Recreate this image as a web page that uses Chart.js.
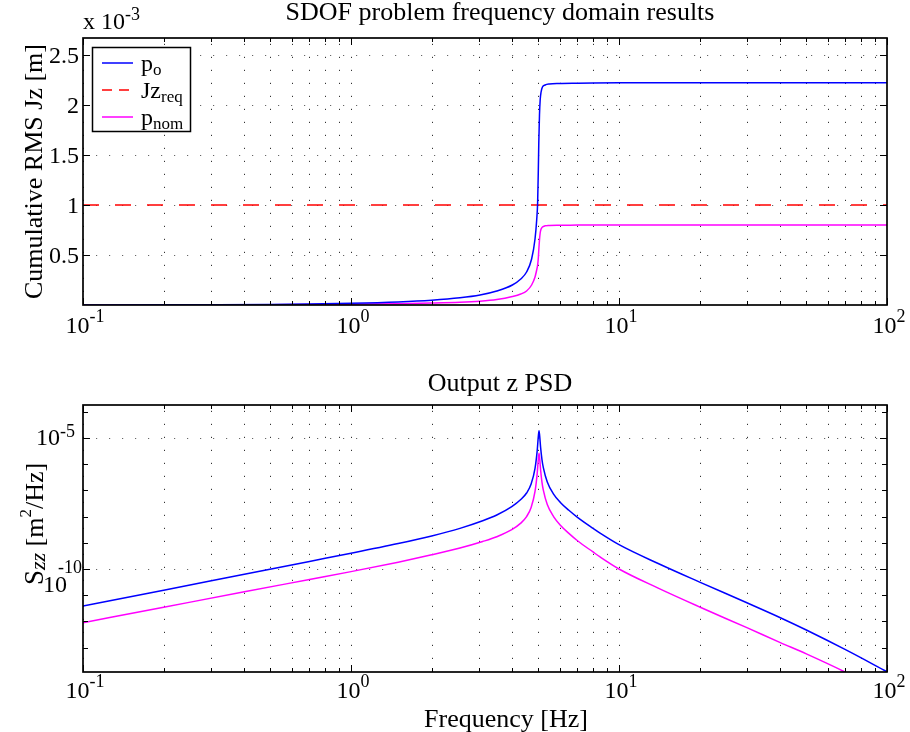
<!DOCTYPE html>
<html><head><meta charset="utf-8">
<script src="https://cdn.jsdelivr.net/npm/chart.js@4.4.1/dist/chart.umd.min.js"></script>
<style>
html,body{margin:0;padding:0;background:#fff;}
#wrap{position:relative;width:910px;height:732px;overflow:hidden;}
#c1{position:absolute;left:0;top:0;width:910px;height:340px;}
#c2{position:absolute;left:0;top:340px;width:910px;height:392px;}
</style></head><body>
<div id="wrap"><canvas id="c1" width="910" height="340"></canvas><canvas id="c2" width="910" height="392"></canvas></div>
<script>
// ---------- Top subplot: cumulative RMS ----------
const freqTop = [0.1, 0.2, 0.3, 0.5, 0.7, 1, 1.5, 2, 2.55, 3.03, 3.5, 4.0, 4.3, 4.52, 4.72, 4.86, 4.93, 4.97, 5.0, 5.02, 5.05, 5.08, 5.12, 5.18, 5.3, 5.5, 6.0, 7, 8, 10, 20, 50, 100];
const rmsPo = [5e-7, 1.5e-6, 3e-6, 6e-6, 1.0e-5, 1.7e-5, 3.1e-5, 4.8e-5, 7.2e-5, 1.0e-4, 1.4e-4, 2.0e-4, 2.6e-4, 3.3e-4, 4.6e-4, 6.6e-4, 8.5e-4, 1.02e-3, 1.35e-3, 1.62e-3, 1.90e-3, 2.05e-3, 2.13e-3, 2.18e-3, 2.20e-3, 2.21e-3, 2.215e-3, 2.218e-3, 2.22e-3, 2.222e-3, 2.223e-3, 2.223e-3, 2.223e-3];
const rmsPnom = [2e-7, 7e-7, 1.3e-6, 2.7e-6, 4.5e-6, 8e-6, 1.3e-5, 1.9e-5, 2.7e-5, 3.8e-5, 5.5e-5, 8.5e-5, 1.1e-4, 1.4e-4, 2.0e-4, 2.8e-4, 3.5e-4, 4.0e-4, 4.7e-4, 5.5e-4, 6.5e-4, 7.2e-4, 7.6e-4, 7.8e-4, 7.92e-4, 7.96e-4, 7.98e-4, 7.99e-4, 8.0e-4, 8.0e-4, 8.0e-4, 8.0e-4, 8.0e-4];
const jzReqFreq = [0.1, 100];
const jzReqValue = [1e-3, 1e-3];

// ---------- Bottom subplot: output PSD ----------
const freqPsd = [0.1, 0.2, 0.4, 0.7, 1, 1.5, 2, 2.55, 3.1, 3.5, 3.98, 4.3, 4.52, 4.7, 4.86, 4.95, 5.0, 5.03, 5.06, 5.1, 5.16, 5.22, 5.4, 5.7, 6.03, 6.5, 7.0, 8.0, 8.5, 10, 14, 20, 30, 40, 50, 70, 100];
const psdPo = [3.89e-12, 1.55e-11, 6.31e-11, 1.95e-10, 3.98e-10, 9.33e-10, 1.82e-9, 3.55e-9, 6.92e-9, 1.15e-8, 2.40e-8, 4.47e-8, 7.94e-8, 1.74e-7, 6.92e-7, 3.16e-6, 1.15e-5, 1.91e-5, 1.15e-5, 4.27e-6, 1.48e-6, 7.41e-7, 2.09e-7, 7.24e-8, 3.55e-8, 1.74e-8, 9.33e-9, 3.55e-9, 2.34e-9, 8.51e-10, 1.62e-10, 3.16e-11, 5.13e-12, 1.38e-12, 4.68e-13, 8.32e-14, 1.2e-14];
const psdPnom = [8.91e-13, 3.47e-12, 1.35e-11, 3.98e-11, 7.94e-11, 1.82e-10, 3.47e-10, 6.31e-10, 1.12e-9, 1.70e-9, 3.16e-9, 5.62e-9, 1.0e-8, 2.24e-8, 9.12e-8, 4.27e-7, 1.58e-6, 2.63e-6, 1.58e-6, 5.89e-7, 2.04e-7, 1.02e-7, 2.88e-8, 1.0e-8, 4.79e-9, 2.29e-9, 1.20e-9, 4.47e-10, 2.88e-10, 1.0e-10, 1.86e-11, 3.55e-12, 5.75e-13, 1.55e-13, 5.75e-14, 1.15e-14, 1.78e-15];

// ---------- Ticks ----------
const xMajorTicks = [0.1, 1, 10, 100];
const xTickExponents = ['-1', '0', '1', '2'];
const xMinorTicks = [0.2,0.3,0.4,0.5,0.6,0.7,0.8,0.9, 2,3,4,5,6,7,8,9, 20,30,40,50,60,70,80,90];
const topYTicks = [0.5e-3, 1e-3, 1.5e-3, 2e-3, 2.5e-3];
const topYTickLabels = ['0.5', '1', '1.5', '2', '2.5'];
const botYTicks = [1e-5, 1e-10];
const botYTickExponents = ['-5', '-10'];
const botYMinorTicks = [1e-13,1e-12,1e-11,1e-9,1e-8,1e-7,1e-6,1e-4];

// ---------- Text ----------
const topTitle = 'SDOF problem frequency domain results';
const topYLabel = 'Cumulative RMS Jz [m]';
const botTitle = 'Output z PSD';
const botXLabel = 'Frequency [Hz]';
const legendMain = ['p', 'Jz', 'p'];
const legendSub = ['o', 'req', 'nom'];

const FONT = '"Liberation Serif","Times New Roman",Times,serif';
const BLUE = '#0000ff', RED = '#ff0000', MAGENTA = '#ff00ff';

function fnt(s, i){ return (i ? 'italic ' : '') + s + 'px ' + FONT; }
function runsWidth(ctx, runs){ let w = 0; for (const r of runs){ ctx.font = fnt(r.s, r.i); w += ctx.measureText(r.t).width; } return w; }
function drawRuns(ctx, runs, x, y, align){
  const w = runsWidth(ctx, runs);
  let cx = align === 'center' ? x - w/2 : (align === 'right' ? x - w : x);
  ctx.textAlign = 'left'; ctx.textBaseline = 'alphabetic'; ctx.fillStyle = '#000';
  for (const r of runs){ ctx.font = fnt(r.s, r.i); ctx.fillText(r.t, cx, y + (r.dy || 0)); cx += ctx.measureText(r.t).width; }
}
function powRuns(e){ return [{t:'10', s:24}, {t:e, s:18, dy:-11}]; }

function toXY(xs, ys){ return xs.map((v, i) => ({x: v, y: ys[i]})); }

function drawGrid(chart, xVals, yVals){
  const {ctx, chartArea: a, scales: {x, y}} = chart;
  ctx.save();
  ctx.beginPath(); ctx.rect(a.left, a.top, a.right - a.left, a.bottom - a.top); ctx.clip();
  ctx.lineWidth = 1; ctx.setLineDash([1.2, 11.8]);
  ctx.strokeStyle = '#333';
  ctx.beginPath();
  for (const v of xVals){ const px = Math.round(x.getPixelForValue(v)) + 0.5; ctx.moveTo(px, a.bottom); ctx.lineTo(px, a.top); }
  ctx.stroke();
  ctx.strokeStyle = '#666';
  ctx.beginPath();
  for (const v of yVals){ const py = Math.round(y.getPixelForValue(v)) + 0.5; ctx.moveTo(a.left, py); ctx.lineTo(a.right, py); }
  ctx.stroke();
  ctx.restore();
}
function drawFrame(chart, yMaj, yMin){
  const {ctx, chartArea: a, scales: {x, y}} = chart;
  ctx.save(); ctx.strokeStyle = '#000'; ctx.setLineDash([]); ctx.lineWidth = 1;
  ctx.beginPath();
  const xt = (v, L) => { const px = Math.round(x.getPixelForValue(v)) + 0.5; ctx.moveTo(px, a.bottom); ctx.lineTo(px, a.bottom - L); ctx.moveTo(px, a.top); ctx.lineTo(px, a.top + L); };
  const yt = (v, L) => { const py = Math.round(y.getPixelForValue(v)) + 0.5; ctx.moveTo(a.left, py); ctx.lineTo(a.left + L, py); ctx.moveTo(a.right, py); ctx.lineTo(a.right - L, py); };
  xMajorTicks.forEach(v => xt(v, 7)); xMinorTicks.forEach(v => xt(v, 4));
  yMaj.forEach(v => yt(v, 7)); yMin.forEach(v => yt(v, 5));
  ctx.stroke();
  ctx.lineWidth = 1.7;
  ctx.strokeRect(a.left, a.top, a.right - a.left, a.bottom - a.top);
  ctx.restore();
}
function drawXTickLabels(chart, offset){
  const {ctx, chartArea: a, scales: {x}} = chart;
  xMajorTicks.forEach((v, i) => drawRuns(ctx, powRuns(xTickExponents[i]), x.getPixelForValue(v) + 2, a.bottom + offset, 'center'));
}

const topPlugin = {
  id: 'topMatlab',
  beforeDatasetsDraw(chart){ drawGrid(chart, xMajorTicks.concat(xMinorTicks), topYTicks); },
  afterDatasetsDraw(chart){
    const {ctx, chartArea: a, scales: {y}} = chart;
    drawFrame(chart, topYTicks, []);
    topYTicks.forEach((v, i) => drawRuns(ctx, [{t: topYTickLabels[i], s: 24}], a.left - 4, y.getPixelForValue(v) + 8, 'right'));
    drawXTickLabels(chart, 28);
    drawRuns(ctx, [{t:'x 10', s:24}, {t:'-3', s:18, dy:-9}], a.left, 29, 'left');
    drawRuns(ctx, [{t: topTitle, s: 26}], 500, 20, 'center');
    ctx.save(); ctx.translate(42, (a.top + a.bottom)/2); ctx.rotate(-Math.PI/2);
    drawRuns(ctx, [{t: topYLabel, s: 26}], 0, 0, 'center'); ctx.restore();
    // legend
    const lx = a.left + 9, ly = a.top + 9, lw = 98, lh = 84;
    ctx.save();
    ctx.fillStyle = '#fff'; ctx.fillRect(lx, ly, lw, lh);
    ctx.strokeStyle = '#000'; ctx.lineWidth = 1.5; ctx.strokeRect(lx + 0.5, ly + 0.5, lw, lh);
    chart.data.datasets.forEach((ds, i) => {
      const ry = ly + 16 + i * 27;
      ctx.strokeStyle = ds.borderColor; ctx.lineWidth = 1.5;
      ctx.setLineDash(ds.borderDash && ds.borderDash.length ? [10, 7] : []);
      ctx.beginPath(); ctx.moveTo(lx + 10, ry); ctx.lineTo(lx + 41, ry); ctx.stroke();
      ctx.setLineDash([]);
      drawRuns(ctx, [{t: legendMain[i], s: 24}, {t: legendSub[i], s: 17, dy: 4.5}], lx + 49, ry + 7.5, 'left');
    });
    ctx.restore();
  }
};

const botPlugin = {
  id: 'botMatlab',
  beforeDatasetsDraw(chart){ drawGrid(chart, xMajorTicks.concat(xMinorTicks), botYTicks); },
  afterDatasetsDraw(chart){
    const {ctx, chartArea: a, scales: {y}} = chart;
    drawFrame(chart, botYTicks, botYMinorTicks);
    botYTicks.forEach((v, i) => {
      const py = y.getPixelForValue(v), e = botYTickExponents[i];
      if (e.length > 2) {
        // MATLAB-style wide exponent: exponent on the tick, base dropped below
        drawRuns(ctx, [{t: e, s: 18}], a.left - 1, py + 4, 'right');
        drawRuns(ctx, [{t: '10', s: 24}], a.left - 16, py + 23, 'right');
      } else {
        drawRuns(ctx, [{t:'10', s:24}, {t: e, s:18, dy:-8}], a.left - 8, py + 7, 'right');
      }
    });
    drawXTickLabels(chart, 26);
    drawRuns(ctx, [{t: botTitle, s: 26}], 500, 51, 'center');
    drawRuns(ctx, [{t: botXLabel, s: 26}], 506, 387, 'center');
    ctx.save(); ctx.translate(43, 184); ctx.rotate(-Math.PI/2);
    drawRuns(ctx, [{t:'S', s:27}, {t:'zz', s:22, i:true, dy:2}, {t:' [m', s:26}, {t:'2', s:17, dy:-12}, {t:'/Hz]', s:26}], 0, 0, 'center');
    ctx.restore();
  }
};

function options(padding, yScale){
  return {
    responsive: false, animation: false, devicePixelRatio: 1,
    layout: {padding},
    plugins: {legend: {display: false}, tooltip: {enabled: false}, title: {display: false}},
    elements: {point: {radius: 0}, line: {borderWidth: 1.5, cubicInterpolationMode: 'monotone'}},
    scales: {
      x: {type: 'logarithmic', min: 0.1, max: 100, grid: {display: false, drawTicks: false}, border: {display: false}, ticks: {display: false}, afterFit(s){ s.height = 0; }},
      y: Object.assign(yScale, {grid: {display: false, drawTicks: false}, border: {display: false}, ticks: {display: false}, afterFit(s){ s.width = 0; }})
    }
  };
}

new Chart(document.getElementById('c1'), {
  type: 'line',
  data: {datasets: [
    {label: 'p_o', data: toXY(freqTop, rmsPo), borderColor: BLUE, fill: false},
    {label: 'Jz_req', data: toXY(jzReqFreq, jzReqValue), borderColor: RED, borderDash: [16, 16], fill: false},
    {label: 'p_nom', data: toXY(freqTop, rmsPnom), borderColor: MAGENTA, fill: false}
  ]},
  options: options({left: 83, top: 38, right: 23, bottom: 35}, {type: 'linear', min: 0, max: 2.67e-3}),
  plugins: [topPlugin]
});

new Chart(document.getElementById('c2'), {
  type: 'line',
  data: {datasets: [
    {label: 'p_o', data: toXY(freqPsd, psdPo), borderColor: BLUE, fill: false},
    {label: 'p_nom', data: toXY(freqPsd, psdPnom), borderColor: MAGENTA, fill: false}
  ]},
  options: options({left: 83, top: 65, right: 23, bottom: 60}, {type: 'logarithmic', min: 1.17e-14, max: 1.82e-4}),
  plugins: [botPlugin]
});
</script>
</body></html>
